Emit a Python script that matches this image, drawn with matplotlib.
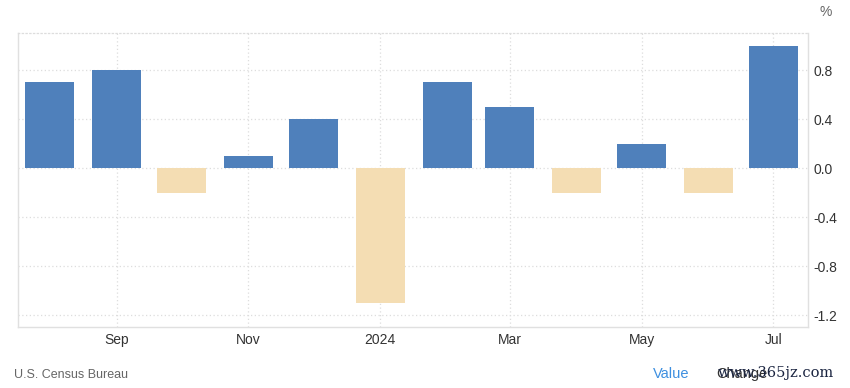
import matplotlib
matplotlib.use("Agg")
import matplotlib.pyplot as plt
import matplotlib.dates as mdates
import numpy as np
import datetime as dt

months = ["2023-08", "2023-09", "2023-10", "2023-11", "2023-12", "2024-01",
          "2024-02", "2024-03", "2024-04", "2024-05", "2024-06", "2024-07"]
values = [0.7, 0.8, -0.2, 0.1, 0.4, -1.1, 0.7, 0.5, -0.2, 0.2, -0.2, 1.0]
tick_months = ["2023-09", "2023-11", "2024-01", "2024-03", "2024-05", "2024-07"]
tick_labels = ["Sep", "Nov", "2024", "Mar", "May", "Jul"]
y_ticks = [0.8, 0.4, 0.0, -0.4, -0.8, -1.2]

plt.rcParams['font.family'] = ['Liberation Sans', 'DejaVu Sans']

def to_date(s):
    y, m = s.split("-")
    return dt.datetime(int(y), int(m), 1)

dates = [to_date(m) for m in months]
tdates = [to_date(m) for m in tick_months]

fig = plt.figure(figsize=(8.5, 3.88), dpi=100)
ax = fig.add_axes([18/850, 1-327/388, (808-18)/850, (327-33)/388])

pos_c = "#4F80BB"
neg_c = "#F4DDB3"
colors = [pos_c if v >= 0 else neg_c for v in values]
xn = mdates.date2num(dates)
ax.bar(xn, values, width=22.6, color=colors, zorder=3)

ax.set_xlim(xn[0] - 14.6, xn[-1] + 16.0)
ax.set_ylim(-1.296, 1.104)

ax.set_xticks(mdates.date2num(tdates))
ax.set_xticklabels(tick_labels)
ax.set_yticks(y_ticks)
ax.set_yticklabels([f"{v:.1f}" for v in y_ticks])
ax.yaxis.tick_right()
ax.tick_params(axis='both', length=0, labelsize=10, colors="#333333")
ax.tick_params(axis='x', pad=4)
ax.tick_params(axis='y', pad=4)

ax.grid(True, color="#dddddd", linestyle=(0, (1, 2)), linewidth=0.9, zorder=0)
for s in ["left", "right", "bottom"]:
    ax.spines[s].set_color("#e0e0e0")
    ax.spines[s].set_linewidth(1.0)
ax.spines["top"].set_color("#dddddd")
ax.spines["top"].set_linestyle((0, (1, 2)))
ax.spines["top"].set_linewidth(0.9)

fig.text(826/850, 1-12/388, "%", fontsize=10, color="#666666", ha="center", va="center")
fig.text(14/850, 1-375/388, "U.S. Census Bureau", fontsize=9, color="#666666", ha="left", va="center")
fig.text(653/850, 1-374/388, "Value", fontsize=10.5, color="#3d8fe0", ha="left", va="center")
fig.text(716/850, 1-374/388, "Change", fontsize=10.5, color="#333333", ha="left", va="center")
fig.text(718/850, 1-373/388, "www.365jz.com", fontsize=10.5, color="#1a2440",
         ha="left", va="center", family=["DejaVu Serif"])

fig.savefig("out.png", dpi=100)
